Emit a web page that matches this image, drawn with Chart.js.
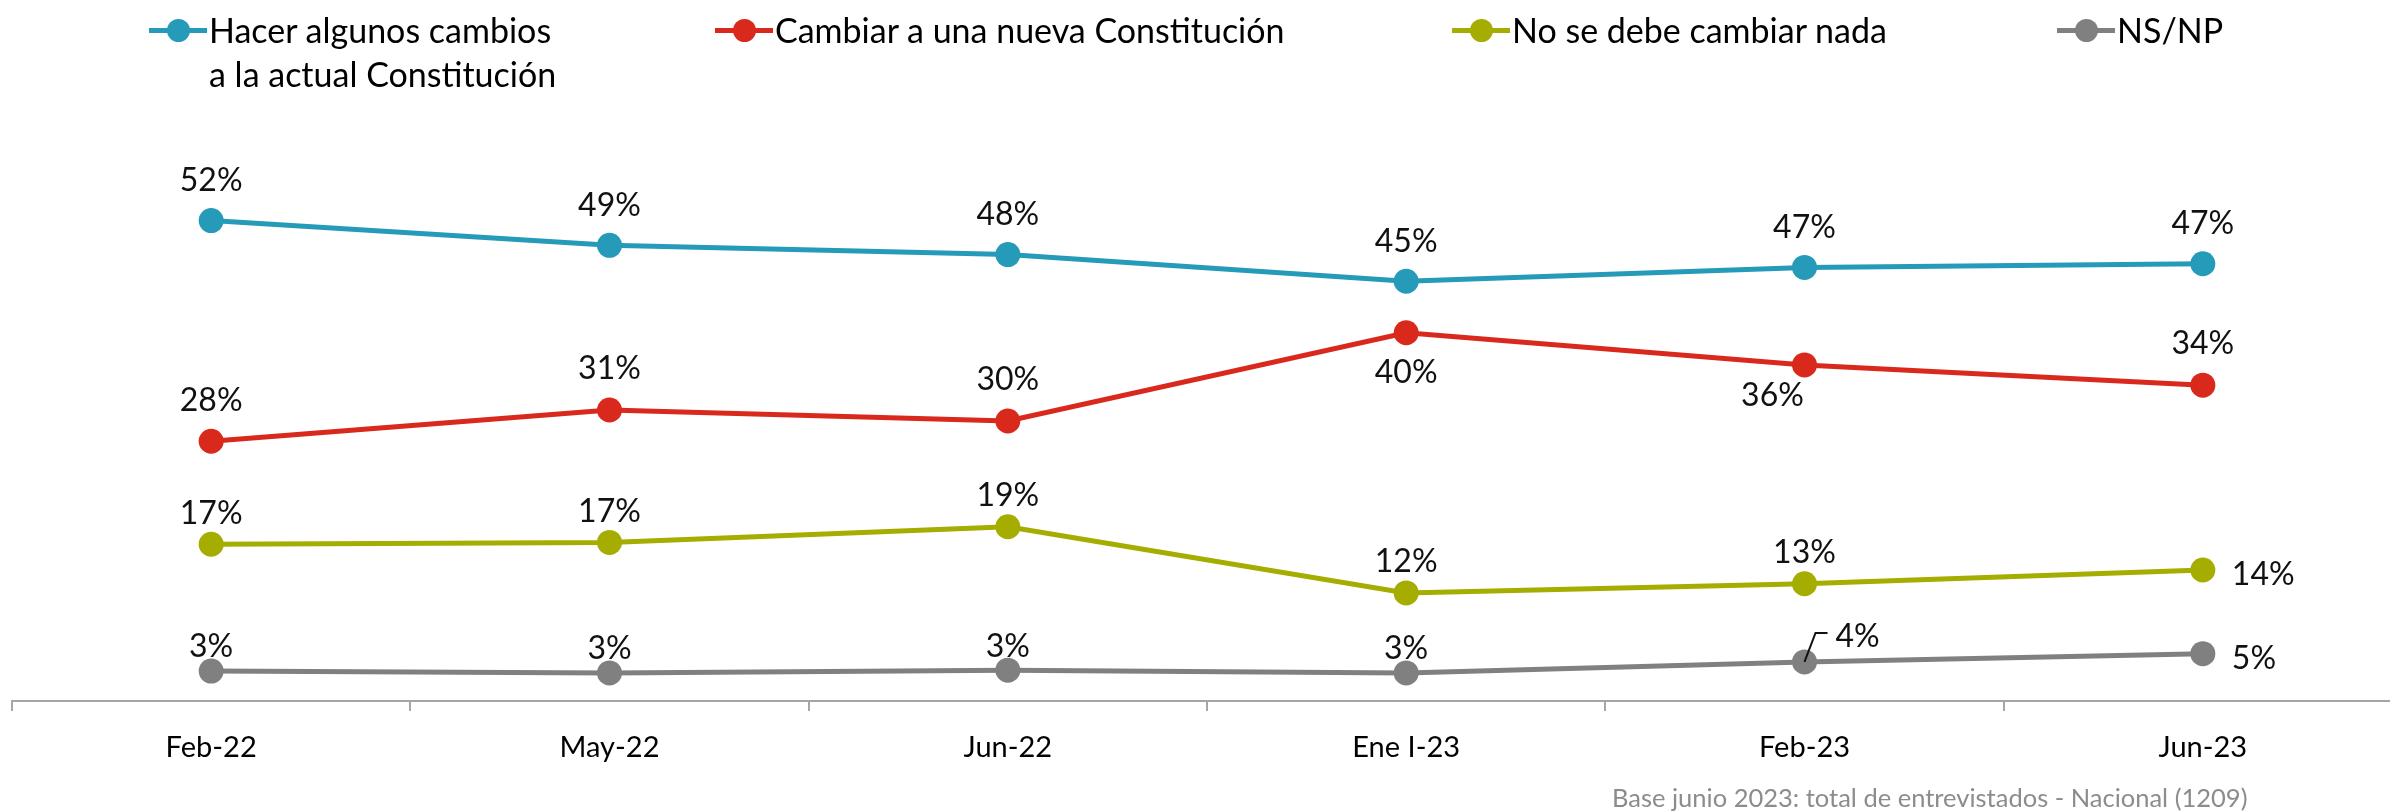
<!DOCTYPE html>
<html>
<head>
<meta charset="utf-8">
<title>Cambios a la Constitución</title>
<script src="https://cdn.jsdelivr.net/npm/chart.js"></script>
<style>
  body { margin: 0; background: #fff; font-family: Lato, sans-serif; overflow: hidden; }
  .page { position: relative; width: 2390px; height: 812px; overflow: hidden; }
  .chart-box { position: absolute; left: 0; top: 0; width: 2402px; height: 812px; }
  .legend-item { position: absolute; top: 8px; font-size: 34px; line-height: 44px; color: #000; padding-left: 60px; white-space: pre-line; }
  .legend-item .mk { position: absolute; left: 0; top: 19.5px; width: 58px; height: 5px; }
  .legend-item .dot { position: absolute; left: 17.5px; top: 10.5px; width: 23px; height: 23px; border-radius: 50%; }
  .note { position: absolute; left: 1612px; top: 784px; font-size: 25.5px; line-height: 26px; color: #8c8c8c; }
</style>
</head>
<body>
<div class="page">
  <div class="chart-box"><canvas id="myChart"></canvas></div>
  <div id="legend"></div>
  <div class="note">Base junio 2023: total de entrevistados - Nacional (1209)</div>
</div>

<script>
  const periods = ['Feb-22', 'May-22', 'Jun-22', 'Ene I-23', 'Feb-23', 'Jun-23'];
  const seriesNames = ['Hacer algunos cambios\na la actual Constitución', 'Cambiar a una nueva Constitución', 'No se debe cambiar nada', 'NS/NP'];

  const algunosCambios = [52, 49.3, 48.3, 45.4, 46.9, 47.3];
  const nuevaConstitucion = [28, 31.4, 30.2, 39.8, 36.3, 34.1];
  const noCambiar = [16.8, 17, 18.7, 11.5, 12.5, 14];
  const nsnp = [3, 2.8, 3.1, 2.8, 4, 4.9];

  const colors = ['#259bb9', '#d9291d', '#a5ad00', '#808080'];

  // where each value label sits relative to its point
  const placement = [
    ['up', 'up', 'up', 'up', 'up', 'up'],
    ['up', 'up', 'up', 'down', 'downLeft', 'up'],
    ['up', 'up', 'up', 'up', 'up', 'right'],
    ['up', 'up', 'up', 'up', 'upRight', 'right']
  ];
  const upOffset = [-40, -41, -31, -24];

  const valueLabels = {
    id: 'valueLabels',
    afterDatasetsDraw(chart) {
      const c = chart.ctx;
      c.save();
      c.font = '32px Lato';
      c.fillStyle = '#111';
      c.strokeStyle = '#111';
      c.lineWidth = 2;
      c.textBaseline = 'middle';
      chart.data.datasets.forEach((ds, i) => {
        chart.getDatasetMeta(i).data.forEach((pt, j) => {
          const txt = Math.round(ds.data[j]) + '%';
          const p = placement[i][j];
          let x = pt.x, y = pt.y;
          c.textAlign = 'center';
          if (p === 'up') { y += upOffset[i]; }
          else if (p === 'down') { y += 40; }
          else if (p === 'downLeft') { x -= 32; y += 31; }
          else if (p === 'right') { c.textAlign = 'left'; x += 29; y += 5; }
          else if (p === 'upRight') {
            c.beginPath();
            c.moveTo(pt.x, pt.y);
            c.lineTo(pt.x + 11, pt.y - 29);
            c.lineTo(pt.x + 23, pt.y - 29);
            c.stroke();
            c.textAlign = 'left'; x += 31; y -= 25;
          }
          c.fillText(txt, x, y);
        });
      });
      c.restore();
    }
  };

  const allSeries = [algunosCambios, nuevaConstitucion, noCambiar, nsnp];

  const ctx = document.getElementById('myChart');
  const chart = new Chart(ctx, {
    type: 'line',
    data: {
      labels: periods,
      datasets: allSeries.map((vals, i) => ({
        label: seriesNames[i],
        data: vals,
        borderColor: colors[i],
        backgroundColor: colors[i],
        pointBackgroundColor: colors[i],
        borderWidth: 5,
        pointRadius: 12.5,
        pointBorderWidth: 0,
        tension: 0,
        clip: false
      }))
    },
    options: {
      responsive: true,
      maintainAspectRatio: false,
      animation: false,
      devicePixelRatio: 1,
      // canvas is 12px wider than the page: the axis runs off the right edge, as in the source
      layout: { autoPadding: false, padding: { left: 12, right: 0, top: 101, bottom: 0 } },
      plugins: { legend: { display: false }, tooltip: { enabled: false } },
      scales: {
        x: {
          offset: true,
          grid: { offset: true, drawOnChartArea: false, drawTicks: true, tickLength: 10, color: '#a6a6a6', lineWidth: 2 },
          border: { color: '#a6a6a6', width: 2 },
          ticks: { font: { family: 'Lato', size: 29 }, color: '#000', padding: 19, maxRotation: 0 },
          afterFit(scale) { scale.height = 111; }
        },
        y: { display: false, min: -0.25, max: 65 }
      }
    },
    plugins: [valueLabels]
  });

  // legend in html, because the first entry runs over two lines
  const legendLeft = [149, 715, 1452, 2057];
  const legend = document.getElementById('legend');
  chart.data.datasets.forEach((ds, i) => {
    const item = document.createElement('div');
    item.className = 'legend-item';
    item.style.left = legendLeft[i] + 'px';
    item.innerHTML = '<span class="mk" style="background:' + colors[i] + '"></span>' +
      '<span class="dot" style="background:' + colors[i] + '"></span>';
    item.appendChild(document.createTextNode(ds.label));
    legend.appendChild(item);
  });
</script>
</body>
</html>
